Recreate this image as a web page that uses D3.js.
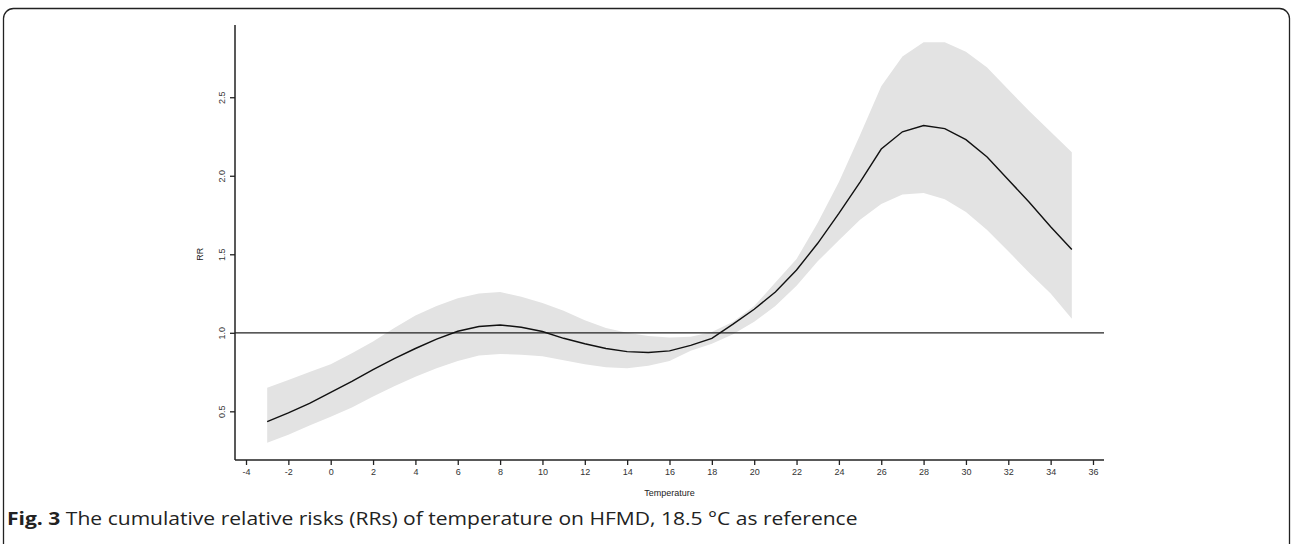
<!DOCTYPE html>
<html>
<head>
<meta charset="utf-8">
<script src="https://cdn.jsdelivr.net/npm/d3@7"></script>
<style>
  body { margin: 0; background: white; }
  svg { display: block; }
</style>
</head>
<body>
<script>
const width = 1292;
const height = 544;

// data: temperature (°C) -> cumulative RR with 95% CI
const temps = d3.range(-3, 36);
const rr = [0.435, 0.49, 0.55, 0.62, 0.69, 0.765, 0.835, 0.90, 0.96, 1.01,
            1.04, 1.05, 1.035, 1.008, 0.965, 0.93, 0.90, 0.88, 0.875, 0.885,
            0.92, 0.965, 1.055, 1.15, 1.26, 1.40, 1.57, 1.76, 1.96, 2.17,
            2.28, 2.32, 2.30, 2.23, 2.12, 1.975, 1.83, 1.675, 1.53];
const rr_high = [0.65, 0.70, 0.75, 0.80, 0.87, 0.945, 1.03, 1.11, 1.17, 1.22,
                 1.25, 1.26, 1.23, 1.19, 1.14, 1.08, 1.03, 1.00, 0.98, 0.97,
                 0.975, 1.005, 1.07, 1.17, 1.32, 1.47, 1.70, 1.96, 2.26, 2.57,
                 2.76, 2.85, 2.85, 2.79, 2.69, 2.55, 2.41, 2.28, 2.15];
const rr_low = [0.30, 0.35, 0.41, 0.465, 0.525, 0.595, 0.66, 0.72, 0.775, 0.82,
                0.855, 0.865, 0.86, 0.85, 0.825, 0.80, 0.78, 0.775, 0.79, 0.82,
                0.885, 0.93, 0.99, 1.07, 1.17, 1.30, 1.455, 1.59, 1.72, 1.82,
                1.88, 1.89, 1.85, 1.77, 1.655, 1.52, 1.38, 1.25, 1.09];
const x_ticks = d3.range(-4, 37, 2);
const y_ticks = [0.5, 1.0, 1.5, 2.0, 2.5];
const ref_rr = 1;
const caption_bold = "Fig. 3";
const caption_text = " The cumulative relative risks (RRs) of temperature on HFMD, 18.5 °C as reference";

const data = temps.map((t, i) => ({ t: t, rr: rr[i], lo: rr_low[i], hi: rr_high[i] }));

let svg = d3.select("body").append("svg")
    .attr("width", width)
    .attr("height", height);

// figure frame (rounded box, bottom edge runs off the page)
svg.append("rect")
    .attr("x", 3.5).attr("y", 8.5)
    .attr("width", 1286).attr("height", 545)
    .attr("rx", 10)
    .attr("fill", "none")
    .attr("stroke", "#222")
    .attr("stroke-width", 1.3);

// plot region, R style 4% padding
let xScale = d3.scaleLinear().domain([-4.52, 36.52]).range([235, 1104]);
let yScale = d3.scaleLinear().domain([0.19, 2.96]).range([460, 25]);

// confidence band
svg.append("path")
    .datum(data)
    .attr("fill", "#e3e3e3")
    .attr("d", d3.area()
        .x((d) => xScale(d.t))
        .y0((d) => yScale(d.lo))
        .y1((d) => yScale(d.hi)));

// reference line at RR = 1
svg.append("line")
    .attr("x1", xScale.range()[0]).attr("x2", xScale.range()[1])
    .attr("y1", yScale(ref_rr)).attr("y2", yScale(ref_rr))
    .attr("stroke", "#222")
    .attr("stroke-width", 1.3);

// RR curve
svg.append("path")
    .datum(data)
    .attr("fill", "none")
    .attr("stroke", "#111")
    .attr("stroke-width", 1.4)
    .attr("d", d3.line()
        .x((d) => xScale(d.t))
        .y((d) => yScale(d.rr)));

// axes (plain hyphen for negatives, like R)
let x_axis = d3.axisBottom(xScale).tickValues(x_ticks).tickSize(5).tickPadding(4)
    .tickFormat((d) => String(d));
let y_axis = d3.axisLeft(yScale).tickValues(y_ticks).tickSize(5)
    .tickFormat((d) => d.toFixed(1));

let gx = svg.append("g")
    .attr("transform", `translate(0, ${yScale.range()[0]})`)
    .call(x_axis);
let gy = svg.append("g")
    .attr("transform", `translate(${xScale.range()[0]}, 0)`)
    .call(y_axis);

// L shaped box: axis lines run the full plot region
gx.select(".domain").attr("d", `M${xScale.range()[0]},0H${xScale.range()[1]}`);
gy.select(".domain").attr("d", `M0,${yScale.range()[0]}V${yScale.range()[1]}`);

[gx, gy].forEach((g) => {
    g.select(".domain").attr("stroke", "#222").attr("stroke-width", 1.5);
    g.selectAll(".tick line").attr("stroke", "#222").attr("stroke-width", 1.3);
    g.selectAll(".tick text")
        .attr("fill", "#333")
        .attr("font-family", "Liberation Sans, Arial, sans-serif")
        .attr("font-size", 9);
});

// y tick labels run parallel to the axis
gy.selectAll(".tick text")
    .attr("text-anchor", "middle")
    .attr("x", 0)
    .attr("y", 0)
    .attr("dy", "0")
    .attr("transform", "translate(-10,0) rotate(-90)");

// axis titles
svg.append("text")
    .attr("text-anchor", "middle")
    .attr("x", (xScale.range()[0] + xScale.range()[1]) / 2)
    .attr("y", 496)
    .attr("fill", "#222")
    .attr("font-family", "Liberation Sans, Arial, sans-serif")
    .attr("font-size", 9)
    .text("Temperature");

svg.append("text")
    .attr("text-anchor", "middle")
    .attr("transform", `translate(203, ${yScale(1.5)}) rotate(-90)`)
    .attr("fill", "#222")
    .attr("font-family", "Liberation Sans, Arial, sans-serif")
    .attr("font-size", 9)
    .text("RR");

// caption, stretched to the width it has in the source
let cap = svg.append("text")
    .attr("transform", "translate(7,525) scale(1.17,1)")
    .attr("fill", "#222")
    .attr("font-family", "Open Sans, sans-serif")
    .attr("font-size", 18);
cap.append("tspan").attr("font-weight", "bold").text(caption_bold);
cap.append("tspan").text(caption_text);
</script>
</body>
</html>
